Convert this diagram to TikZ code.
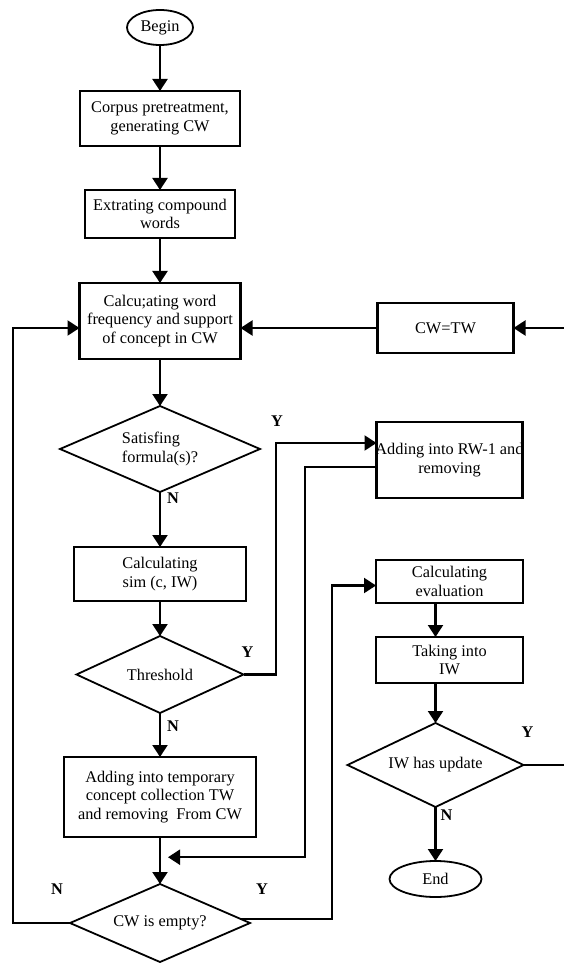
\documentclass[tikz,border=0pt]{standalone}
\usepackage{fontspec}
\setmainfont{Liberation Serif}
\usepackage{tikz}
\usetikzlibrary{positioning}
\usetikzlibrary{shapes.geometric, arrows.meta, calc}
\tikzstyle{arrow} = [line width=2.2pt,-{Triangle[width=15pt,length=12pt]}]
\tikzstyle{process} = [rectangle,draw,line width=2.2pt,outer sep=0pt,align=center,inner sep=2pt]
\tikzstyle{decision} = [diamond,draw,line width=1.8pt,outer sep=0pt,aspect=2.3,inner sep=0pt,align=center]
\tikzstyle{startstop} = [ellipse,draw,line width=1.8pt,outer sep=0pt,inner sep=0pt]
\tikzstyle{yn} = [font=\fontsize{16.3}{18.5}\selectfont\bfseries]

\begin{document}
\begin{tikzpicture}[x=1pt,y=-1pt,font=\fontsize{16.3}{18.5}\selectfont]
				\useasboundingbox (0,0) rectangle (564,965);
				
				%Nodes
				\node (begin) [startstop,minimum width=66pt,minimum height=35pt] at (160,27.5) {Begin};
				\node (corpus) [process,minimum width=160pt,minimum height=55pt,below=46pt of begin] {Corpus pretreatment,\\generating CW};
				\node (extract) [process,minimum width=150pt,minimum height=48pt,below=44pt of corpus] {Extrating compound\\words};
				\node (calcfreq) [process,minimum width=161pt,minimum height=76pt,below=45pt of extract] {Calcu;ating word\\frequency and support\\of concept in CW};
				\node (satisfy) [decision,align=left,minimum width=200pt,minimum height=86pt,below=47pt of calcfreq] {Satisfing\\formula(s)?};
				\node (calcsim) [process,minimum width=172pt,minimum height=54pt,below=55pt of satisfy] {Calculating\\sim (c, IW)};
				\node (threshold) [decision,minimum width=167pt,minimum height=77pt,below=35pt of calcsim] {Threshold};
				\node (tempbox) [process,minimum width=192pt,minimum height=80pt,below=44pt of threshold] {Adding into temporary\\concept collection TW\\and removing\ \ From CW};
				\node (cwempty) [decision,minimum width=180pt,minimum height=78pt,below=47pt of tempbox] {CW is empty?};
				
				\node (cwtw) [process,minimum width=136pt,minimum height=50pt,right=137pt of calcfreq,yshift=-7pt] {CW=TW};
				\node (rw1) [process,minimum width=146pt,minimum height=76pt,below=69pt of cwtw,xshift=4pt] {\makebox[0pt]{Adding into RW-1 and}\\removing};
				\node (evalbox) [process,minimum width=147pt,minimum height=43pt,below=62pt of rw1] {Calculating\\evaluation};
				\node (taking) [process,minimum width=147pt,minimum height=46pt,below=34pt of evalbox] {Taking into\\IW};
				\node (iwupd) [decision,minimum width=176pt,minimum height=84pt,below=40pt of taking,xshift=-14pt] {IW has update};
				\node (finish) [startstop,minimum width=92pt,minimum height=36pt,below=54pt of iwupd] {End};
				
				%Labels
				\node [yn] at ([xshift=17pt,yshift=28pt]satisfy.east) {Y};
				\node [yn] at ([xshift=13pt,yshift=-6pt]satisfy.south) {N};
				\node [yn] at ([xshift=4pt,yshift=22pt]threshold.east) {Y};
				\node [yn] at ([xshift=13pt,yshift=-13pt]threshold.south) {N};
				\node [yn] at ([xshift=-13pt,yshift=34pt]cwempty.west) {N};
				\node [yn] at ([xshift=12pt,yshift=34pt]cwempty.east) {Y};
				\node [yn] at ([xshift=4pt,yshift=33pt]iwupd.east) {Y};
				\node [yn] at ([xshift=11pt,yshift=-8pt]iwupd.south) {N};
				
				%Coordinates
				\coordinate (colA) at (13,0);
				\coordinate (colB) at (276,0);
				\coordinate (colC) at (305,0);
				\coordinate (colD) at (332,0);
				\coordinate (colE) at (568,0);
				\coordinate (rw1in) at ([yshift=17pt]rw1.west);
				\coordinate (rw1out) at ([yshift=-7pt]rw1.west);
				\coordinate (evalin) at ([yshift=-4pt]evalbox.west);
				\coordinate (joinpt) at ([xshift=8pt]$(tempbox.south)!0.43!(cwempty.north)$);
				
				%Lines
				\draw [arrow] (begin) -- (corpus);
				\draw [arrow] (corpus) -- (extract);
				\draw [arrow] (extract) -- (calcfreq);
				\draw [arrow] (calcfreq) -- (satisfy);
				\draw [arrow] (satisfy) -- (calcsim);
				\draw [arrow] (calcsim) -- (threshold);
				\draw [arrow] (threshold) -- (tempbox);
				\draw [arrow] (tempbox) -- (cwempty);
				\draw [arrow] (cwtw) -- (calcfreq.east |- cwtw);
				\draw [arrow] (cwempty.west) -| (colA |- cwtw) -- (calcfreq.west |- cwtw);
				\draw [arrow] (threshold.east) -| (colB |- rw1in) -- (rw1in);
				\draw [arrow] (rw1out) -| (colC |- joinpt) -- (joinpt);
				\draw [arrow] (cwempty.3) -| (colD |- evalin) -- (evalin);
				\draw [arrow] (evalbox.south -| iwupd) -- (taking.north -| iwupd);
				\draw [arrow] (taking.south -| iwupd) -- (iwupd);
				\draw [arrow] (iwupd) -- (finish);
				\draw [arrow] (iwupd.east) -| (colE |- cwtw) -- (cwtw);
				
\end{tikzpicture}
\end{document}
